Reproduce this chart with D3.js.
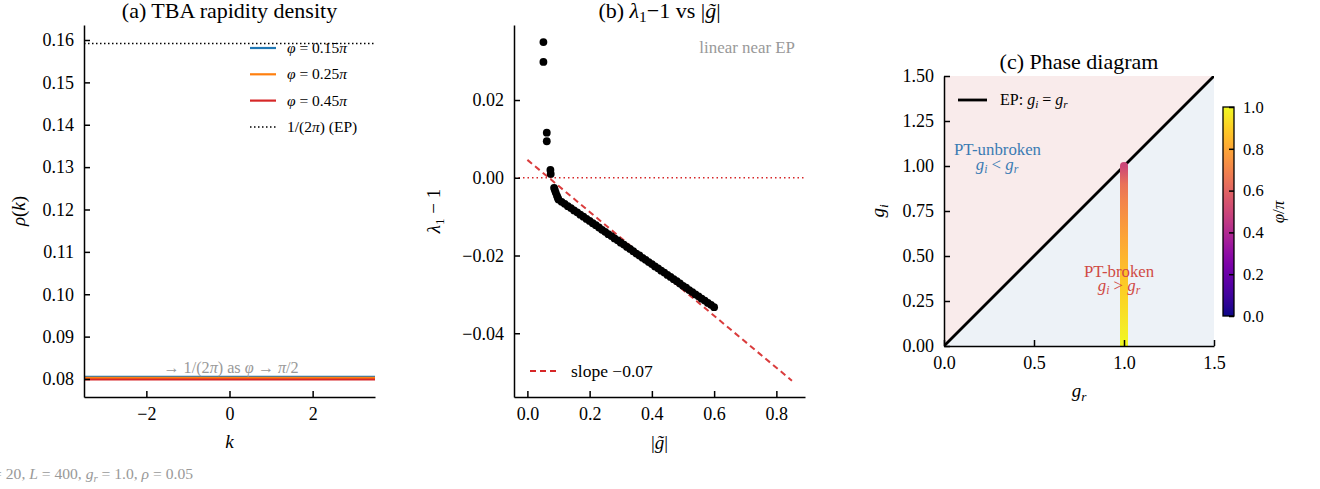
<!DOCTYPE html>
<html>
<head>
<meta charset="utf-8">
<script src="https://cdn.jsdelivr.net/npm/d3@7"></script>
<style>
  body { margin: 0; background: #fff; }
  svg { display: block; }
</style>
</head>
<body>
<svg id="fig" width="1320" height="489"></svg>
<script>
(function(d3) {
    "use strict";

    // ---- panel (a): TBA rapidity density ----
    var kDomain = [-3.5, 3.5],
        kTicks = [-2, 0, 2],
        rhoTicks = [0.08, 0.09, 0.10, 0.11, 0.12, 0.13, 0.14, 0.15, 0.16],
        phiLabels = ["0.15", "0.25", "0.45"],
        rhoLevels = [0.08052, 0.08024, 0.07988],
        rhoColors = ["#1f77b4", "#ff7f0e", "#d62728"],
        rhoEP = 0.15915;

    // ---- panel (b): lambda_1 - 1 vs |g~| ----
    var gAbs = [0.0515, 0.0515, 0.0623, 0.0623, 0.074, 0.075, 0.0858, 0.088, 0.091, 0.095, 0.098,
        0.10, 0.11, 0.12, 0.13, 0.14, 0.15, 0.16, 0.17, 0.18, 0.19,
        0.20, 0.21, 0.22, 0.23, 0.24, 0.25, 0.26, 0.27, 0.28, 0.29,
        0.30, 0.31, 0.32, 0.33, 0.34, 0.35, 0.36, 0.37, 0.38, 0.39,
        0.40, 0.41, 0.42, 0.43, 0.44, 0.45, 0.46, 0.47, 0.48, 0.49,
        0.50, 0.51, 0.52, 0.53, 0.54, 0.55, 0.56, 0.57, 0.58, 0.59, 0.60],
        lamMinus1 = [0.0349, 0.0298, 0.0116, 0.0094, 0.0020, 0.0010, -0.0026, -0.0031, -0.0038, -0.0046, -0.0052,
        -0.0056, -0.0062, -0.0067, -0.0073, -0.0078, -0.0084, -0.0089, -0.0095, -0.0100, -0.0106,
        -0.0111, -0.0117, -0.0122, -0.0128, -0.0134, -0.0139, -0.0145, -0.0150, -0.0156, -0.0161,
        -0.0167, -0.0172, -0.0178, -0.0183, -0.0189, -0.0195, -0.0200, -0.0206, -0.0211, -0.0217,
        -0.0222, -0.0228, -0.0233, -0.0239, -0.0244, -0.0250, -0.0255, -0.0261, -0.0266, -0.0272,
        -0.0278, -0.0283, -0.0289, -0.0294, -0.0300, -0.0305, -0.0311, -0.0316, -0.0322, -0.0327, -0.0333],
        fitG = [0.0, 0.85],
        fitLam = [0.0046, -0.0522],
        gTicks = [0.0, 0.2, 0.4, 0.6, 0.8],
        lamTicks = [-0.04, -0.02, 0.00, 0.02];

    // ---- panel (c): phase diagram ----
    var grTicks = [0.0, 0.5, 1.0, 1.5],
        giTicks = [0.00, 0.25, 0.50, 0.75, 1.00, 1.25, 1.50],
        trackGi = [0.0, 0.1, 0.2, 0.3, 0.4, 0.5, 0.6, 0.7, 0.8, 0.9, 1.0],
        trackPhi = [1.0, 0.968, 0.936, 0.903, 0.869, 0.833, 0.795, 0.753, 0.705, 0.644, 0.5],
        cbTicks = [0.0, 0.2, 0.4, 0.6, 0.8, 1.0];

    var FONT = "'Liberation Serif', 'Times New Roman', serif",
        TICK = 18,
        svg = d3.select("#fig");

    svg.append("rect").attr("width", 1320).attr("height", 489).attr("fill", "#fff");

    // append math-ish text: parts are [text, flag] with flag "i" italic, "s" subscript, "si" italic subscript
    function rich(sel, parts, size) {
        var shifted = false;
        parts.forEach(function(p) {
            var t = sel.append("tspan").text(p[0]),
                f = p[1] || "";
            if (f.indexOf("i") >= 0) t.attr("font-style", "italic");
            if (f.indexOf("s") >= 0) {
                t.attr("font-size", size * 0.7);
                if (!shifted) t.attr("dy", size * 0.2);
                shifted = true;
            } else if (shifted) {
                t.attr("dy", -size * 0.2);
                shifted = false;
            }
        });
        return sel;
    }

    function label(x, y, parts, size, opts) {
        opts = opts || {};
        var t = svg.append("text")
            .attr("x", x).attr("y", y)
            .attr("font-family", FONT)
            .attr("font-size", size)
            .attr("fill", opts.fill || "#000")
            .attr("text-anchor", opts.anchor || "middle");
        if (opts.rotate) t.attr("transform", "rotate(" + opts.rotate + "," + x + "," + y + ")");
        return rich(t, parts, size);
    }

    function styleAxis(g, size) {
        g.attr("font-family", FONT).attr("font-size", size);
        g.select(".domain").attr("stroke", "#000").attr("stroke-width", 1.5);
        g.selectAll(".tick line").attr("stroke", "#000").attr("stroke-width", 1.5);
        g.selectAll(".tick text").attr("fill", "#000");
    }

    // ================= panel (a) =================
    var xa = d3.scaleLinear().domain(kDomain).range([84, 375]),
        ya = d3.scaleLinear().domain([0.07575, 0.16354]).range([397, 25]),
        ga = svg.append("g");

    ga.append("line")
        .attr("x1", xa(kDomain[0])).attr("x2", xa(kDomain[1]))
        .attr("y1", ya(rhoEP)).attr("y2", ya(rhoEP))
        .attr("stroke", "#000").attr("stroke-width", 1.5).attr("stroke-dasharray", "1.5,2.5");

    ga.selectAll(".rho").data(rhoLevels).enter().append("line")
        .attr("x1", xa(kDomain[0])).attr("x2", xa(kDomain[1]))
        .attr("y1", function(d) { return ya(d); })
        .attr("y2", function(d) { return ya(d); })
        .attr("stroke", function(d, i) { return rhoColors[i]; })
        .attr("stroke-width", 2.2);

    ga.append("g").attr("transform", "translate(0,397)")
        .call(d3.axisBottom(xa).tickValues(kTicks).tickFormat(d3.format("d")).tickSizeInner(-6).tickSizeOuter(0).tickPadding(10))
        .call(styleAxis, TICK);
    ga.append("g").attr("transform", "translate(84,0)")
        .call(d3.axisLeft(ya).tickValues(rhoTicks).tickFormat(d3.format(".2f")).tickSizeInner(-6).tickSizeOuter(0).tickPadding(10))
        .call(styleAxis, TICK);

    // legend (a)
    var legA = [0, 1, 2].map(function(i) {
        return { color: rhoColors[i], dash: null, parts: [["φ", "i"], [" = " + phiLabels[i]], ["π", "i"]] };
    });
    legA.push({ color: "#000", dash: "1.5,2.5", parts: [["1/(2"], ["π", "i"], [") (EP)"]] });
    legA.forEach(function(d, i) {
        var y = 48 + i * 26.3;
        ga.append("line").attr("x1", 250).attr("x2", 276).attr("y1", y).attr("y2", y)
            .attr("stroke", d.color).attr("stroke-width", d.dash ? 1.5 : 2.2)
            .attr("stroke-dasharray", d.dash);
        label(287, y + 5, d.parts, 15.5, { anchor: "start" });
    });

    label(231, 373, [["→ 1/(2"], ["π", "i"], [") as "], ["φ", "i"], [" → "], ["π", "i"], ["/2"]], 16.2, { fill: "#999" });
    label(229.5, 17.5, [["(a) TBA rapidity density"]], 22);
    label(229.5, 448, [["k", "i"]], 19);
    label(25, 211, [["ρ", "i"], ["("], ["k", "i"], [")"]], 19, { rotate: -90 });

    label(193, 479, [["N", "i"], [" = 20, "], ["L", "i"], [" = 400, "], ["g", "i"], ["r", "si"], [" = 1.0, "], ["ρ", "i"], [" = 0.05"]], 15.6, { anchor: "end", fill: "#999" });

    // ================= panel (b) =================
    var xb = d3.scaleLinear().domain([-0.043, 0.892]).range([514, 805]),
        yb = d3.scaleLinear().domain([-0.0564, 0.0393]).range([397, 25]),
        gb = svg.append("g");

    gb.append("line")
        .attr("x1", 514).attr("x2", 805).attr("y1", yb(0)).attr("y2", yb(0))
        .attr("stroke", "#d62728").attr("stroke-width", 1.5).attr("stroke-dasharray", "1.5,3");

    gb.append("line")
        .attr("x1", xb(fitG[0])).attr("y1", yb(fitLam[0]))
        .attr("x2", xb(fitG[1])).attr("y2", yb(fitLam[1]))
        .attr("stroke", "#d62728").attr("stroke-width", 2).attr("stroke-dasharray", "6,4")
        .attr("opacity", 0.9);

    gb.selectAll(".pt").data(gAbs).enter().append("circle")
        .attr("cx", function(d) { return xb(d); })
        .attr("cy", function(d, i) { return yb(lamMinus1[i]); })
        .attr("r", 3.9).attr("fill", "#000");

    gb.append("g").attr("transform", "translate(0,397)")
        .call(d3.axisBottom(xb).tickValues(gTicks).tickFormat(d3.format(".1f")).tickSizeInner(-6).tickSizeOuter(0).tickPadding(10))
        .call(styleAxis, TICK);
    gb.append("g").attr("transform", "translate(514,0)")
        .call(d3.axisLeft(yb).tickValues(lamTicks).tickFormat(d3.format(".2f")).tickSizeInner(-6).tickSizeOuter(0).tickPadding(10))
        .call(styleAxis, TICK);

    gb.append("line").attr("x1", 530).attr("x2", 557).attr("y1", 371).attr("y2", 371)
        .attr("stroke", "#d62728").attr("stroke-width", 2).attr("stroke-dasharray", "6,4");
    label(571, 376.5, [["slope −0.07"]], 17.5, { anchor: "start" });

    label(795, 53, [["linear near EP"]], 16.9, { anchor: "end", fill: "#999" });
    label(659.5, 17.5, [["(b) "], ["λ", "i"], ["1", "s"], ["−1 vs |"], ["g\u0303", "i"], ["|"]], 22);
    label(659.5, 449, [["|"], ["g\u0303", "i"], ["|"]], 19);
    label(440, 211, [["λ", "i"], ["1", "s"], [" − 1"]], 19, { rotate: -90 });

    // ================= panel (c) =================
    var xc = d3.scaleLinear().domain([0, 1.5]).range([944, 1214]),
        yc = d3.scaleLinear().domain([0, 1.5]).range([346, 76]),
        gc = svg.append("g"),
        defs = svg.append("defs");

    defs.append("clipPath").attr("id", "clipC").append("rect")
        .attr("x", 944).attr("y", 76).attr("width", 270).attr("height", 270);

    var corner = function(pts) {
        return pts.map(function(p) { return xc(p[0]) + "," + yc(p[1]); }).join(" ");
    };
    gc.append("polygon").attr("points", corner([[0, 0], [0, 1.5], [1.5, 1.5]])).attr("fill", "#f9ebeb");
    gc.append("polygon").attr("points", corner([[0, 0], [1.5, 0], [1.5, 1.5]])).attr("fill", "#edf2f7");

    gc.append("line")
        .attr("x1", xc(0)).attr("y1", yc(0)).attr("x2", xc(1.5)).attr("y2", yc(1.5))
        .attr("stroke", "#000").attr("stroke-width", 2.8).attr("clip-path", "url(#clipC)");

    label(997.5, 155, [["PT-unbroken"]], 16.8, { fill: "#3b7bb3" });
    label(997, 170, [["g", "i"], ["i", "si"], [" < "], ["g", "i"], ["r", "si"]], 16.8, { fill: "#3b7bb3" });
    label(1119, 277, [["PT-broken"]], 16.8, { fill: "#d04a45" });
    label(1119, 291, [["g", "i"], ["i", "si"], [" > "], ["g", "i"], ["r", "si"]], 16.8, { fill: "#d04a45" });

    var grad = defs.append("linearGradient").attr("id", "trackGrad")
        .attr("gradientUnits", "userSpaceOnUse")
        .attr("x1", 0).attr("x2", 0)
        .attr("y1", yc(trackGi[0])).attr("y2", yc(trackGi[trackGi.length - 1]));
    grad.selectAll("stop").data(trackGi).enter().append("stop")
        .attr("offset", function(d) { return d / trackGi[trackGi.length - 1]; })
        .attr("stop-color", function(d, i) { return d3.interpolatePlasma(trackPhi[i]); });

    gc.append("line")
        .attr("x1", xc(1.0)).attr("x2", xc(1.0))
        .attr("y1", yc(trackGi[0])).attr("y2", yc(trackGi[trackGi.length - 1]))
        .attr("stroke", "url(#trackGrad)").attr("stroke-width", 8).attr("stroke-linecap", "round")
        .attr("clip-path", "url(#clipC)");

    gc.append("g").attr("transform", "translate(0,346)")
        .call(d3.axisBottom(xc).tickValues(grTicks).tickFormat(d3.format(".1f")).tickSizeInner(-6).tickSizeOuter(0).tickPadding(10))
        .call(styleAxis, TICK);
    gc.append("g").attr("transform", "translate(944,0)")
        .call(d3.axisLeft(yc).tickValues(giTicks).tickFormat(d3.format(".2f")).tickSizeInner(-6).tickSizeOuter(0).tickPadding(10))
        .call(styleAxis, TICK);

    gc.append("line").attr("x1", 958).attr("x2", 987).attr("y1", 100).attr("y2", 100)
        .attr("stroke", "#000").attr("stroke-width", 2.8);
    label(1000, 105, [["EP: "], ["g", "i"], ["i", "si"], [" = "], ["g", "i"], ["r", "si"]], 16, { anchor: "start" });

    label(1079, 69, [["(c) Phase diagram"]], 22);
    label(1079, 397, [["g", "i"], ["r", "si"]], 19);
    label(884, 211, [["g", "i"], ["i", "si"]], 19, { rotate: -90 });

    // colorbar
    var ycb = d3.scaleLinear().domain([0, 1]).range([316, 107]),
        cbGrad = defs.append("linearGradient").attr("id", "cbGrad")
            .attr("x1", 0).attr("y1", 1).attr("x2", 0).attr("y2", 0);
    cbGrad.selectAll("stop").data(d3.range(0, 1.0001, 0.05)).enter().append("stop")
        .attr("offset", function(d) { return d; })
        .attr("stop-color", function(d) { return d3.interpolatePlasma(d); });

    svg.append("rect").attr("x", 1223).attr("y", ycb(1)).attr("width", 11).attr("height", ycb(0) - ycb(1))
        .attr("fill", "url(#cbGrad)").attr("stroke", "#000").attr("stroke-width", 1.3);

    var cbAxis = svg.append("g").attr("transform", "translate(1234,0)")
        .call(d3.axisRight(ycb).tickValues(cbTicks).tickFormat(d3.format(".1f")).tickSizeInner(-5).tickSizeOuter(0).tickPadding(9))
        .call(styleAxis, 16.5);
    cbAxis.select(".domain").remove();

    label(1284, 212, [["φ", "i"], ["/"], ["π", "i"]], 17, { rotate: -90 });

}(d3));
</script>
</body>
</html>
